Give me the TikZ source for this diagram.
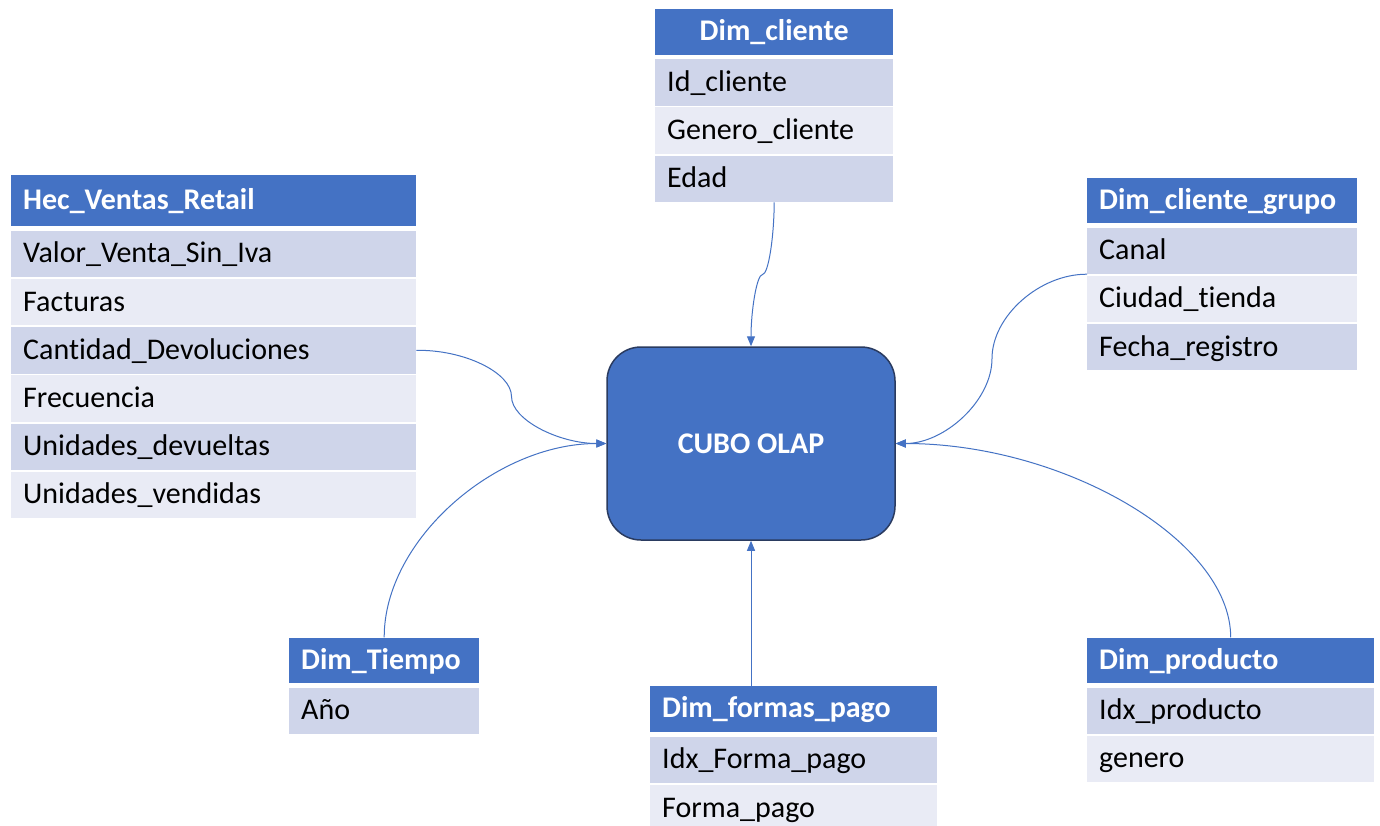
\documentclass[tikz,border=0pt]{standalone}
\usepackage{fontspec}
\setmainfont{Carlito}[Ligatures=NoCommon]
\usetikzlibrary{arrows.meta,calc}
\definecolor{hdrblue}{HTML}{4472C4}
\definecolor{rowdark}{HTML}{CFD5EA}
\definecolor{rowlight}{HTML}{E9EBF5}
\definecolor{cubeedge}{HTML}{2A3B60}
\begin{document}
\begin{tikzpicture}[x=1pt,y=-1pt,
  cell/.style={anchor=north west, inner xsep=12pt, inner ysep=0pt, text height=22pt, text depth=4pt, align=left, font=\fontsize{30}{34}\selectfont},
  hdr/.style={cell, fill=hdrblue, text=white, font=\fontsize{30}{34}\selectfont\bfseries, minimum height=45.5pt},
  rd/.style={cell, fill=rowdark, minimum height=46.5pt},
  rl/.style={cell, fill=rowlight, minimum height=46.5pt},
  conn/.style={draw=hdrblue, line width=1pt},
  arr/.style={conn, -{Triangle[length=10pt,width=8pt]}},
  cubebox/.style={draw=cubeedge, line width=1.5pt, fill=hdrblue, rounded corners=34pt, minimum width=288pt, minimum height=193pt, text=white, font=\fontsize{30}{34}\selectfont\bfseries}
]
\useasboundingbox (0,0) rectangle (1380,825);
\fill[white] (0,0) rectangle (1380,825);

% Hec_Ventas_Retail
\node[hdr, text width=381pt, minimum height=51pt] (hh) at (11,175) {Hec\_Ventas\_Retail};
\node[rd, text width=381pt] (hv1) at (11,230.5) {Valor\_Venta\_Sin\_Iva};
\node[rl, text width=381pt] (hv2) at (11,278.7) {Facturas};
\node[rd, text width=381pt] (hv3) at (11,326.9) {Cantidad\_Devoluciones};
\node[rl, text width=381pt] (hv4) at (11,375.1) {Frecuencia};
\node[rd, text width=381pt] (hv5) at (11,423.3) {Unidades\_devueltas};
\node[rl, text width=381pt] (hv6) at (11,471.5) {Unidades\_vendidas};

% Dim_cliente
\node[hdr, text width=214pt, align=center] (dch) at (655,9) {Dim\_cliente};
\node[rd, text width=214pt] (dc1) at (655,59) {Id\_cliente};
\node[rl, text width=214pt] (dc2) at (655,107.2) {Genero\_cliente};
\node[rd, text width=214pt] (dc3) at (655,155.4) {Edad};

% Dim_cliente_grupo
\node[hdr, text width=246pt] (dgh) at (1087,177.3) {Dim\_cliente\_grupo};
\node[rd, text width=246pt] (dg1) at (1087,227.3) {Canal};
\node[rl, text width=246pt] (dg2) at (1087,275.5) {Ciudad\_tienda};
\node[rd, text width=246pt] (dg3) at (1087,323.7) {Fecha\_registro};

% Dim_Tiempo
\node[hdr, text width=166pt] (dth) at (289,637.3) {Dim\_Tiempo};
\node[rd, text width=166pt] (dt1) at (289,687.3) {Año};

% Dim_formas_pago
\node[hdr, text width=263pt] (dfh) at (650,686) {Dim\_formas\_pago};
\node[rd, text width=263pt] (df1) at (650,736.5) {Idx\_Forma\_pago};
\node[rl, text width=263pt] (df2) at (650,784.7) {Forma\_pago};

% Dim_producto
\node[hdr, text width=263pt] (dph) at (1087,637.3) {Dim\_producto};
\node[rd, text width=263pt] (dp1) at (1087,687.3) {Idx\_producto};
\node[rl, text width=263pt] (dp2) at (1087,735.5) {genero};

% Cube
\node[cubebox] (cube) at (751,443.5) {CUBO OLAP};

% Connectors
\draw[arr] (hv3.east) .. controls (463.75,349.5) and (511.5,372.5) .. (511.5,396.5)
  .. controls (511.5,420) and (559.25,443.5) .. (cube.west);
\draw[arr] (dc3.south) .. controls (774,238.25) and (768.25,274.5) .. (762.5,274.5)
  .. controls (756.75,274.5) and (751,310.75) .. (cube.north);
\draw[arr] (dg1.south west) .. controls (1039.5,274) and (992,316.25) .. (992,358.5)
  .. controls (992,400.75) and (944.5,443.5) .. (cube.east);
\draw[arr] (dth.north) .. controls (384,540) and (495.5,443.5) .. (cube.west);
\draw[arr] (dph.north) .. controls (1230.5,540) and (1063.5,443.5) .. (cube.east);
\draw[arr] (cube.south |- dfh.north) -- (cube.south);
\end{tikzpicture}
\end{document}
